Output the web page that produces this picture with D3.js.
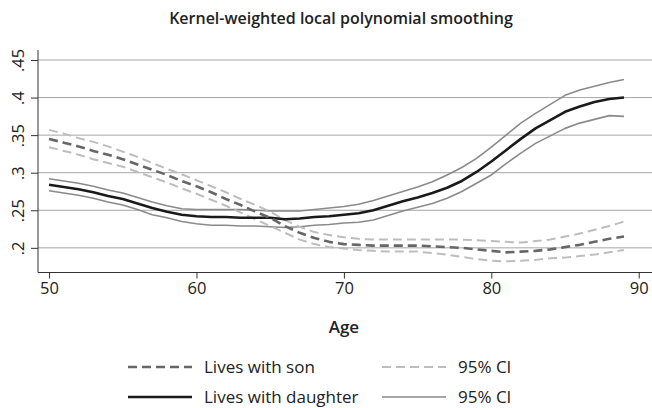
<!DOCTYPE html>
<html>
<head>
<meta charset="utf-8">
<script src="https://cdn.jsdelivr.net/npm/d3@7"></script>
<style>
    body { margin: 0; background: #fff; }
    svg { display: block; font-family: "Open Sans", sans-serif; }
</style>
</head>
<body>
<div id="chart"></div>
<script>
// Ages on the grid used by the smoother
const ages = d3.range(50, 90);

// Lives with son: estimate and 95% CI
const sonFit = [.345, .340, .335, .329, .324, .318, .311, .304, .297, .289,
                .282, .274, .265, .257, .248, .240, .229, .220, .213, .208,
                .205, .204, .203, .203, .203, .203, .202, .201, .200, .198,
                .196, .194, .195, .196, .198, .201, .204, .208, .212, .215];
const sonUpper = [.357, .352, .346, .341, .335, .328, .321, .313, .305, .298,
                  .290, .282, .274, .265, .257, .248, .237, .228, .221, .217,
                  .214, .212, .211, .211, .211, .211, .211, .211, .211, .210,
                  .209, .208, .207, .209, .211, .215, .219, .224, .229, .235];
const sonLower = [.334, .329, .324, .318, .313, .308, .301, .294, .287, .279,
                  .272, .264, .256, .247, .238, .229, .220, .211, .205, .201,
                  .199, .197, .196, .195, .195, .195, .193, .191, .188, .185,
                  .183, .182, .183, .184, .186, .187, .189, .191, .194, .197];

// Lives with daughter: estimate and 95% CI
const daughterFit = [.284, .281, .278, .274, .269, .265, .259, .253, .248, .244,
                     .242, .241, .241, .240, .240, .240, .238, .239, .241, .242,
                     .244, .246, .250, .256, .262, .267, .273, .280, .289, .301,
                     .315, .330, .345, .359, .370, .381, .388, .394, .398, .400];
const daughterUpper = [.292, .289, .286, .282, .277, .273, .267, .261, .256, .252,
                       .251, .251, .251, .251, .250, .249, .249, .249, .251, .253,
                       .255, .258, .263, .269, .275, .281, .288, .297, .307, .319,
                       .334, .350, .366, .379, .391, .403, .410, .415, .420, .424];
const daughterLower = [.276, .273, .270, .266, .261, .257, .251, .244, .240, .235,
                       .232, .230, .230, .229, .229, .228, .227, .228, .230, .231,
                       .233, .234, .237, .243, .249, .254, .259, .266, .275, .286,
                       .297, .312, .326, .339, .349, .359, .366, .371, .376, .375];

const xTicks = [50, 60, 70, 80, 90];
const yTicks = [.2, .25, .3, .35, .4, .45];

const title = "Kernel-weighted local polynomial smoothing";
const xTitle = "Age";

// Line styles
const styles = {
    sonCI:      { color: "#bdbdbd", width: 2,   dash: "9,5" },
    daughterCI: { color: "#8a8a8a", width: 1.6, dash: null },
    son:        { color: "#666666", width: 2.6, dash: "9,5" },
    daughter:   { color: "#1a1a1a", width: 2.6, dash: null }
};

const series = [
    { values: daughterUpper, style: styles.daughterCI },
    { values: daughterLower, style: styles.daughterCI },
    { values: sonUpper, style: styles.sonCI },
    { values: sonLower, style: styles.sonCI },
    { values: daughterFit, style: styles.daughter },
    { values: sonFit, style: styles.son }
];

const legendItems = [
    { label: "Lives with son", style: styles.son, col: 0, row: 0 },
    { label: "Lives with daughter", style: styles.daughter, col: 0, row: 1 },
    { label: "95% CI", style: styles.sonCI, col: 1, row: 0 },
    { label: "95% CI", style: styles.daughterCI, col: 1, row: 1 }
];

const W = 652, H = 408;
const plot = { left: 38, right: 652, top: 50, bottom: 272.5 };

const svg = d3.select("#chart").append("svg")
    .attr("width", W)
    .attr("height", H);

const x = d3.scaleLinear()
    .domain([49.25, 90.9])
    .range([plot.left, plot.right]);

const y = d3.scaleLinear()
    .domain([0.1672, 0.4633])
    .range([plot.bottom, plot.top]);

// Title
svg.append("text")
    .attr("x", 341)
    .attr("y", 24)
    .attr("text-anchor", "middle")
    .style("font-size", "16px")
    .style("font-weight", 600)
    .style("fill", "#222")
    .text(title);

// Grid lines
svg.append("g")
    .selectAll("line")
    .data(yTicks)
    .join("line")
    .attr("x1", plot.left)
    .attr("x2", plot.right)
    .attr("y1", d => y(d))
    .attr("y2", d => y(d))
    .attr("stroke", "#a6a6a6")
    .attr("stroke-width", 1);

// Y axis
const yAxis = svg.append("g")
    .attr("transform", `translate(${plot.left},0)`)
    .call(d3.axisLeft(y).tickValues(yTicks).tickSize(7)
        .tickFormat(d => d3.format(".2~f")(d).replace(/^0/, "")));
yAxis.select(".domain").attr("d", `M0,${plot.top}V${plot.bottom}`).attr("stroke", "#333");
yAxis.selectAll(".tick line").attr("stroke", "#333");
yAxis.selectAll(".tick text")
    .attr("x", 0)
    .attr("dy", 0)
    .attr("transform", "translate(-14,0) rotate(-90)")
    .attr("text-anchor", "middle")
    .style("font-size", "16.5px")
    .style("font-family", "Open Sans, sans-serif")
    .style("fill", "#222");

// X axis
const xAxis = svg.append("g")
    .attr("transform", `translate(0,${plot.bottom})`)
    .call(d3.axisBottom(x).tickValues(xTicks).tickSize(6));
xAxis.select(".domain").attr("d", `M${plot.left},0H${plot.right}`).attr("stroke", "#333");
xAxis.selectAll(".tick line").attr("stroke", "#333");
xAxis.selectAll(".tick text")
    .attr("y", 10)
    .attr("dy", "0.71em")
    .style("font-size", "16.5px")
    .style("font-family", "Open Sans, sans-serif")
    .style("fill", "#222");

svg.append("text")
    .attr("x", x(70))
    .attr("y", 333)
    .attr("text-anchor", "middle")
    .style("font-size", "17px")
    .style("font-weight", 600)
    .style("fill", "#222")
    .text(xTitle);

// Lines
const line = d3.line()
    .x((d, i) => x(ages[i]))
    .y(d => y(d));

svg.append("g")
    .selectAll("path")
    .data(series)
    .join("path")
    .attr("d", d => line(d.values))
    .attr("fill", "none")
    .attr("stroke", d => d.style.color)
    .attr("stroke-width", d => d.style.width)
    .attr("stroke-dasharray", d => d.style.dash)
    .attr("stroke-linejoin", "round");

// Legend
const colX = [128, 382];
const rowY = [367, 397];

const legend = svg.append("g")
    .selectAll("g")
    .data(legendItems)
    .join("g")
    .attr("transform", d => `translate(${colX[d.col]},${rowY[d.row]})`);

legend.append("line")
    .attr("x1", 0)
    .attr("x2", 64)
    .attr("stroke", d => d.style.color)
    .attr("stroke-width", d => d.style.width)
    .attr("stroke-dasharray", d => d.style.dash);

legend.append("text")
    .attr("x", 76)
    .attr("dy", "0.35em")
    .style("font-size", "17px")
    .style("fill", "#222")
    .text(d => d.label);
</script>
</body>
</html>
